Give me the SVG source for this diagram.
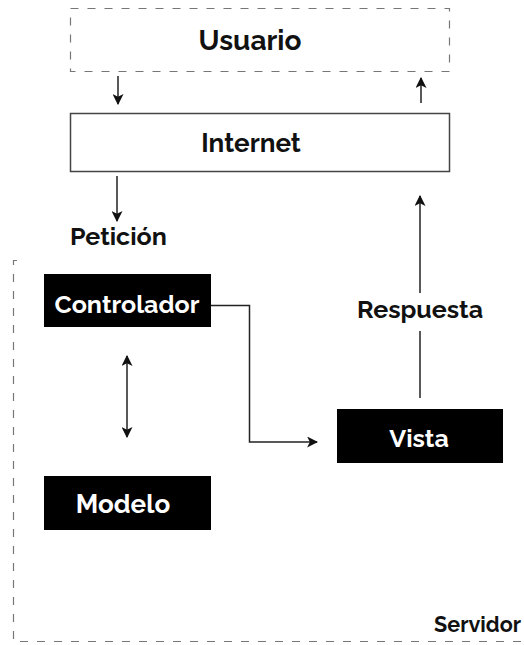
<svg xmlns="http://www.w3.org/2000/svg" width="524" height="645" viewBox="0 0 524 645">
<style>
.t{font-family:"Raleway","Liberation Sans","Arial",sans-serif;font-weight:bold;fill:#111}
.w{fill:#fff}
.dash{fill:none;stroke:#777;stroke-width:1.2;stroke-dasharray:8 9}
.box{fill:#000}
.ln{fill:none;stroke:#222;stroke-width:1.5}
</style>
<defs>
<marker id="ah" viewBox="0 0 10 10" refX="9" refY="5" markerWidth="11" markerHeight="11" markerUnits="userSpaceOnUse" orient="auto-start-reverse">
<path d="M0,0 L10,5 L0,10 L2.5,5 Z" fill="#111"/>
</marker>
</defs>
<rect width="524" height="645" fill="#fff"/>
<g id="servidor">
<path class="dash" d="M17,260.5 H13.5 V641.5 H524"/>
<text class="t" x="521" y="632" font-size="21.5" text-anchor="end">Servidor</text>
</g>
<g id="usuario">
<rect class="dash" x="70.5" y="8.5" width="379" height="63"/>
<text class="t" x="250" y="50" font-size="28" text-anchor="middle">Usuario</text>
</g>
<g id="internet">
<rect x="70.5" y="113.5" width="379" height="58" fill="#fff" stroke="#444" stroke-width="1.5"/>
<text class="t" x="251" y="152" font-size="26" text-anchor="middle">Internet</text>
</g>
<g id="peticion">
<text class="t" x="70" y="245" font-size="25">Petición</text>
</g>
<g id="respuesta">
<text class="t" x="420" y="318" font-size="25" text-anchor="middle">Respuesta</text>
</g>
<g id="controlador">
<rect class="box" x="44" y="274" width="167" height="53"/>
<text class="t w" x="127" y="313" font-size="25" text-anchor="middle">Controlador</text>
</g>
<g id="vista">
<rect class="box" x="337" y="409" width="166" height="54"/>
<text class="t w" x="419" y="447" font-size="25" text-anchor="middle">Vista</text>
</g>
<g id="modelo">
<rect class="box" x="44" y="476" width="167" height="54"/>
<text class="t w" x="123" y="513" font-size="26" text-anchor="middle">Modelo</text>
</g>
<g id="connectors">
<line class="ln" x1="118" y1="76" x2="118" y2="104" marker-end="url(#ah)"/>
<line class="ln" x1="421" y1="103" x2="421" y2="78" marker-end="url(#ah)"/>
<line class="ln" x1="117" y1="176" x2="117" y2="221" marker-end="url(#ah)"/>
<line class="ln" x1="420" y1="293" x2="420" y2="196" marker-end="url(#ah)"/>
<line class="ln" x1="420" y1="398" x2="420" y2="331"/>
<path class="ln" d="M211,305.5 H249.5 V442 H317" marker-end="url(#ah)"/>
<line class="ln" x1="127" y1="356" x2="127" y2="437" marker-start="url(#ah)" marker-end="url(#ah)"/>
</g>
</svg>
